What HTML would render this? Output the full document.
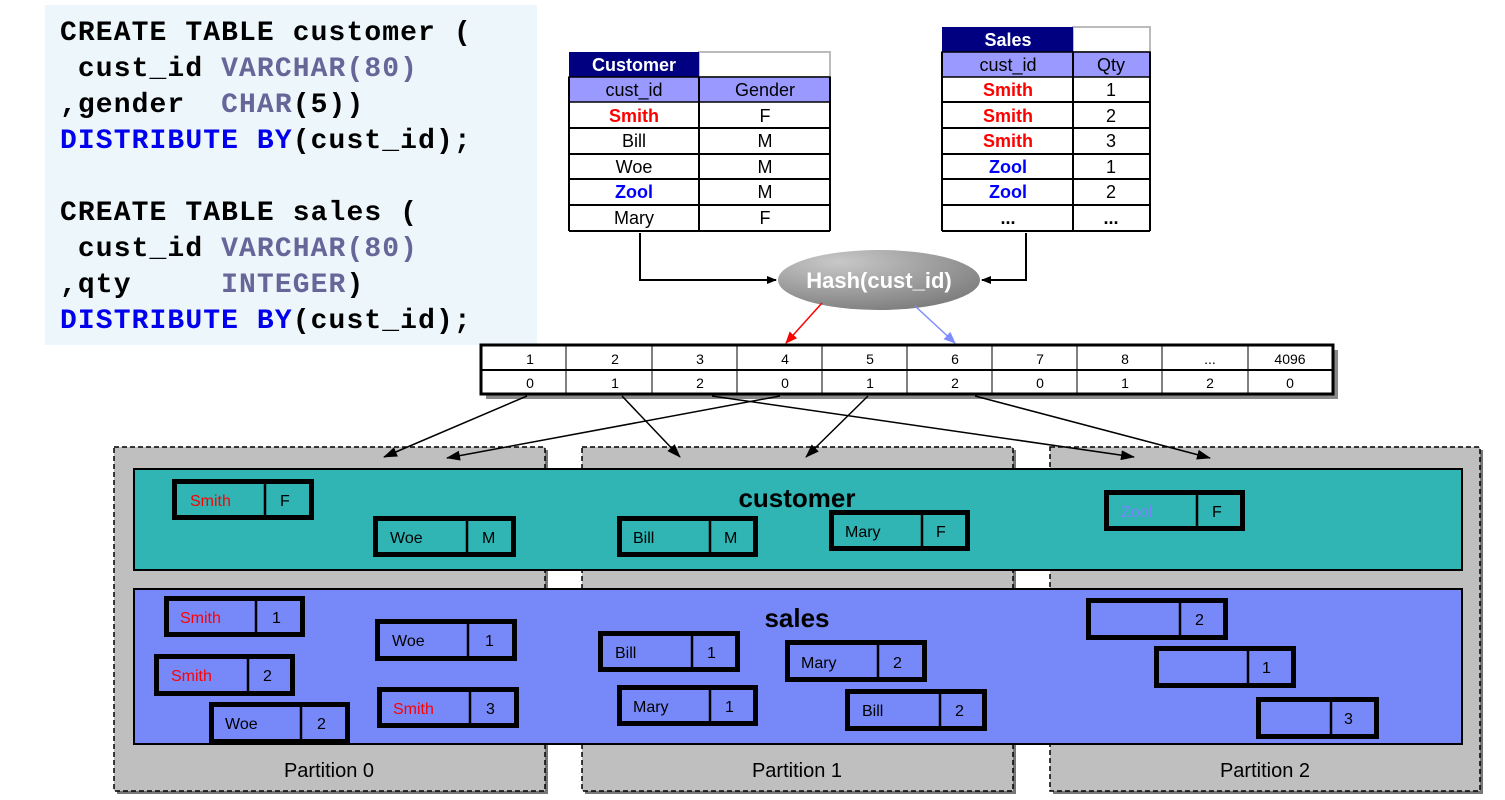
<!DOCTYPE html>
<html><head><meta charset="utf-8"><style>
body{margin:0;background:#fff;width:1505px;height:795px;overflow:hidden}
.pre text{white-space:pre}
</style></head><body>
<svg width="1505" height="795" xmlns="http://www.w3.org/2000/svg" font-family="Liberation Sans, Arial, sans-serif">
<defs>
<marker id="ab" markerWidth="10" markerHeight="8" refX="9" refY="4" orient="auto" markerUnits="userSpaceOnUse"><path d="M0,0 L10,4 L0,8 z" fill="#000"/></marker>
<marker id="ar" markerWidth="12" markerHeight="10" refX="11" refY="5" orient="auto" markerUnits="userSpaceOnUse"><path d="M0,0 L12,5 L0,10 z" fill="#f00"/></marker>
<marker id="abl" markerWidth="12" markerHeight="10" refX="11" refY="5" orient="auto" markerUnits="userSpaceOnUse"><path d="M0,0 L12,5 L0,10 z" fill="#7f8cff"/></marker>
<marker id="ab2" markerWidth="14" markerHeight="10" refX="13" refY="5" orient="auto" markerUnits="userSpaceOnUse"><path d="M0,0 L14,5 L0,10 z" fill="#000"/></marker>
<radialGradient id="eg" cx="0.3" cy="0.2" r="0.9"><stop offset="0" stop-color="#c8c8c8"/><stop offset="1" stop-color="#7a7a7a"/></radialGradient>
</defs>
<!-- code block -->
<rect x="45" y="5" width="492" height="340" fill="#ecf6fb"/>
<g class="pre" xml:space="preserve" font-family="Liberation Mono, Courier New, monospace" font-weight="bold" font-size="28" letter-spacing="1.1">
<text x="60" y="40" fill="#000">CREATE TABLE customer (</text>
<text x="60" y="76" fill="#000"> cust_id <tspan fill="#666699">VARCHAR(80)</tspan></text>
<text x="60" y="112" fill="#000">,gender  <tspan fill="#666699">CHAR</tspan>(5))</text>
<text x="60" y="148" fill="#0000ee">DISTRIBUTE BY<tspan fill="#000">(cust_id);</tspan></text>
<text x="60" y="220" fill="#000">CREATE TABLE sales (</text>
<text x="60" y="256" fill="#000"> cust_id <tspan fill="#666699">VARCHAR(80)</tspan></text>
<text x="60" y="292" fill="#000">,qty     <tspan fill="#666699">INTEGER</tspan>)</text>
<text x="60" y="328" fill="#0000ee">DISTRIBUTE BY<tspan fill="#000">(cust_id);</tspan></text>
</g>
<!-- customer table -->
<rect x="699" y="52" width="131" height="25" fill="#fff" stroke="#bbb" stroke-width="2"/>
<rect x="569" y="52" width="130" height="25" fill="#000080"/>
<text x="634" y="71" fill="#fff" font-weight="bold" font-size="18" text-anchor="middle">Customer</text>
<rect x="569" y="77" width="261" height="25" fill="#9999ff" stroke="#000" stroke-width="1.5"/>
<line x1="699" y1="77" x2="699" y2="231" stroke="#000" stroke-width="2"/>
<g stroke="#000" stroke-width="2"><line x1="569" y1="77" x2="569" y2="231"/><line x1="830" y1="77" x2="830" y2="231"/>
<line x1="569" y1="128" x2="830" y2="128"/><line x1="569" y1="154" x2="830" y2="154"/><line x1="569" y1="179" x2="830" y2="179"/><line x1="569" y1="205" x2="830" y2="205"/><line x1="569" y1="231" x2="830" y2="231"/></g>
<g font-size="18" text-anchor="middle">
<text x="634" y="96">cust_id</text><text x="765" y="96">Gender</text>
<text x="634" y="122" fill="#f00" font-weight="bold">Smith</text><text x="765" y="122">F</text>
<text x="634" y="147">Bill</text><text x="765" y="147">M</text>
<text x="634" y="173">Woe</text><text x="765" y="173">M</text>
<text x="634" y="198" fill="#00f" font-weight="bold">Zool</text><text x="765" y="198">M</text>
<text x="634" y="224">Mary</text><text x="765" y="224">F</text>
</g>
<!-- sales table -->
<rect x="1073" y="27" width="77" height="25" fill="#fff" stroke="#bbb" stroke-width="2"/>
<rect x="942" y="27" width="131" height="25" fill="#000080"/>
<text x="1008" y="46" fill="#fff" font-weight="bold" font-size="18" text-anchor="middle">Sales</text>
<rect x="942" y="52" width="208" height="25" fill="#9999ff" stroke="#000" stroke-width="1.5"/>
<g stroke="#000" stroke-width="2"><line x1="942" y1="52" x2="942" y2="231"/><line x1="1073" y1="52" x2="1073" y2="231"/><line x1="1150" y1="52" x2="1150" y2="231"/>
<line x1="942" y1="102" x2="1150" y2="102"/><line x1="942" y1="128" x2="1150" y2="128"/><line x1="942" y1="154" x2="1150" y2="154"/><line x1="942" y1="179" x2="1150" y2="179"/><line x1="942" y1="205" x2="1150" y2="205"/><line x1="942" y1="231" x2="1150" y2="231"/></g>
<g font-size="18" text-anchor="middle">
<text x="1008" y="71">cust_id</text><text x="1111" y="71">Qty</text>
<text x="1008" y="96" fill="#f00" font-weight="bold">Smith</text><text x="1111" y="96">1</text>
<text x="1008" y="122" fill="#f00" font-weight="bold">Smith</text><text x="1111" y="122">2</text>
<text x="1008" y="147" fill="#f00" font-weight="bold">Smith</text><text x="1111" y="147">3</text>
<text x="1008" y="173" fill="#00f" font-weight="bold">Zool</text><text x="1111" y="173">1</text>
<text x="1008" y="198" fill="#00f" font-weight="bold">Zool</text><text x="1111" y="198">2</text>
<text x="1008" y="224" font-weight="bold">...</text><text x="1111" y="224" font-weight="bold">...</text>
</g>
<!-- connectors to hash -->
<polyline points="640,233 640,280 776,280" fill="none" stroke="#000" stroke-width="2" marker-end="url(#ab)"/>
<polyline points="1026,233 1026,280 982,280" fill="none" stroke="#000" stroke-width="2" marker-end="url(#ab)"/>
<ellipse cx="879" cy="280" rx="101" ry="30" fill="url(#eg)"/>
<text x="879" y="288" fill="#fff" font-weight="bold" font-size="22" text-anchor="middle">Hash(cust_id)</text>
<line x1="822" y1="303" x2="786" y2="343" stroke="#f00" stroke-width="1.5" marker-end="url(#ar)"/>
<line x1="915" y1="306" x2="955" y2="343" stroke="#7f8cff" stroke-width="1.5" marker-end="url(#abl)"/>
<!-- hash map -->
<rect x="486" y="350" width="852" height="49" fill="#888"/>
<rect x="481" y="345" width="852" height="49" fill="#fff" stroke="#000" stroke-width="3"/>
<line x1="481" y1="370" x2="1333" y2="370" stroke="#000" stroke-width="2"/>
<g stroke="#000" stroke-width="1"><line x1="566" y1="345" x2="566" y2="394"/><line x1="652" y1="345" x2="652" y2="394"/><line x1="737" y1="345" x2="737" y2="394"/><line x1="822" y1="345" x2="822" y2="394"/><line x1="907" y1="345" x2="907" y2="394"/><line x1="992" y1="345" x2="992" y2="394"/><line x1="1077" y1="345" x2="1077" y2="394"/><line x1="1162" y1="345" x2="1162" y2="394"/><line x1="1248" y1="345" x2="1248" y2="394"/></g>
<g font-size="14" text-anchor="middle">
<text x="530" y="364">1</text><text x="615" y="364">2</text><text x="700" y="364">3</text><text x="785" y="364">4</text><text x="870" y="364">5</text><text x="955" y="364">6</text><text x="1040" y="364">7</text><text x="1125" y="364">8</text><text x="1210" y="364">...</text><text x="1290" y="364">4096</text>
<text x="530" y="388">0</text><text x="615" y="388">1</text><text x="700" y="388">2</text><text x="785" y="388">0</text><text x="870" y="388">1</text><text x="955" y="388">2</text><text x="1040" y="388">0</text><text x="1125" y="388">1</text><text x="1210" y="388">2</text><text x="1290" y="388">0</text>
</g>
<!-- partitions -->
<g fill="#bfbfbf" stroke="#000" stroke-width="1.5" stroke-dasharray="5,3">
<rect x="117" y="450" width="431" height="344" fill="#777" stroke="none"/>
<rect x="585" y="450" width="431" height="344" fill="#777" stroke="none"/>
<rect x="1053" y="450" width="430" height="344" fill="#777" stroke="none"/>
<rect x="114" y="447" width="431" height="344"/>
<rect x="582" y="447" width="431" height="344"/>
<rect x="1050" y="447" width="430" height="344"/>
</g>
<g stroke="#000" stroke-width="1.5">
<line x1="527" y1="396" x2="384" y2="457" marker-end="url(#ab2)"/>
<line x1="780" y1="396" x2="447" y2="458" marker-end="url(#ab2)"/>
<line x1="622" y1="396" x2="680" y2="457" marker-end="url(#ab2)"/>
<line x1="868" y1="396" x2="806" y2="457" marker-end="url(#ab2)"/>
<line x1="712" y1="396" x2="1134" y2="457" marker-end="url(#ab2)"/>
<line x1="975" y1="396" x2="1210" y2="458" marker-end="url(#ab2)"/>
</g>
<rect x="134" y="469" width="1328" height="101" fill="#30b4b4" stroke="#000" stroke-width="2"/>
<rect x="134" y="589" width="1328" height="155" fill="#7788f8" stroke="#000" stroke-width="2"/>
<text x="797" y="507" font-weight="bold" font-size="26" text-anchor="middle">customer</text>
<text x="797" y="627" font-weight="bold" font-size="26" text-anchor="middle">sales</text>
<g font-size="20" text-anchor="middle"><text x="329" y="777">Partition 0</text><text x="797" y="777">Partition 1</text><text x="1265" y="777">Partition 2</text></g>
<!-- records -->
<g fill="none" stroke="#000" stroke-width="5">
<rect x="174.5" y="481.5" width="137" height="36"/><line x1="265" y1="481" x2="265" y2="518" stroke-width="2.5"/>
<rect x="375.5" y="518.5" width="138" height="36"/><line x1="467" y1="518" x2="467" y2="555" stroke-width="2.5"/>
<rect x="619.5" y="518.5" width="136" height="36"/><line x1="710" y1="518" x2="710" y2="555" stroke-width="2.5"/>
<rect x="831.5" y="512.5" width="136" height="36"/><line x1="922" y1="512" x2="922" y2="549" stroke-width="2.5"/>
<rect x="1106.5" y="492.5" width="136" height="36"/><line x1="1197" y1="492" x2="1197" y2="529" stroke-width="2.5"/>
<rect x="166.5" y="598.5" width="136" height="36"/><line x1="256" y1="598" x2="256" y2="635" stroke-width="2.5"/>
<rect x="156.5" y="656.5" width="136" height="37"/><line x1="248" y1="656" x2="248" y2="694" stroke-width="2.5"/>
<rect x="211.5" y="704.5" width="136" height="37"/><line x1="301" y1="704" x2="301" y2="742" stroke-width="2.5"/>
<rect x="377.5" y="621.5" width="137" height="37"/><line x1="468" y1="621" x2="468" y2="659" stroke-width="2.5"/>
<rect x="379.5" y="689.5" width="137" height="36"/><line x1="470" y1="689" x2="470" y2="726" stroke-width="2.5"/>
<rect x="600.5" y="633.5" width="137" height="36"/><line x1="692" y1="633" x2="692" y2="670" stroke-width="2.5"/>
<rect x="619.5" y="687.5" width="136" height="36"/><line x1="710" y1="687" x2="710" y2="724" stroke-width="2.5"/>
<rect x="787.5" y="642.5" width="137" height="37"/><line x1="878" y1="642" x2="878" y2="680" stroke-width="2.5"/>
<rect x="847.5" y="691.5" width="137" height="37"/><line x1="940" y1="691" x2="940" y2="729" stroke-width="2.5"/>
<rect x="1088.5" y="600.5" width="137" height="37"/><line x1="1180" y1="600" x2="1180" y2="638" stroke-width="2.5"/>
<rect x="1156.5" y="648.5" width="137" height="37"/><line x1="1248" y1="648" x2="1248" y2="686" stroke-width="2.5"/>
<rect x="1258.5" y="699.5" width="118" height="37"/><line x1="1331" y1="699" x2="1331" y2="737" stroke-width="2.5"/>
</g>
<g font-size="16">
<text x="190" y="506" fill="#f00">Smith</text><text x="280" y="506">F</text>
<text x="390" y="543">Woe</text><text x="482" y="543">M</text>
<text x="633" y="543">Bill</text><text x="724" y="543">M</text>
<text x="845" y="537">Mary</text><text x="936" y="537">F</text>
<text x="1121" y="517" fill="#7788f8">Zool</text><text x="1212" y="517">F</text>
<text x="180" y="623" fill="#f00">Smith</text><text x="272" y="623">1</text>
<text x="171" y="681" fill="#f00">Smith</text><text x="263" y="681">2</text>
<text x="225" y="729">Woe</text><text x="317" y="729">2</text>
<text x="392" y="646">Woe</text><text x="485" y="646">1</text>
<text x="393" y="714" fill="#f00">Smith</text><text x="486" y="714">3</text>
<text x="615" y="658">Bill</text><text x="707" y="658">1</text>
<text x="633" y="712">Mary</text><text x="725" y="712">1</text>
<text x="801" y="668">Mary</text><text x="893" y="668">2</text>
<text x="862" y="716">Bill</text><text x="955" y="716">2</text>
<text x="1195" y="625">2</text>
<text x="1262" y="673">1</text>
<text x="1344" y="724">3</text>
</g>
</svg>
</body></html>
